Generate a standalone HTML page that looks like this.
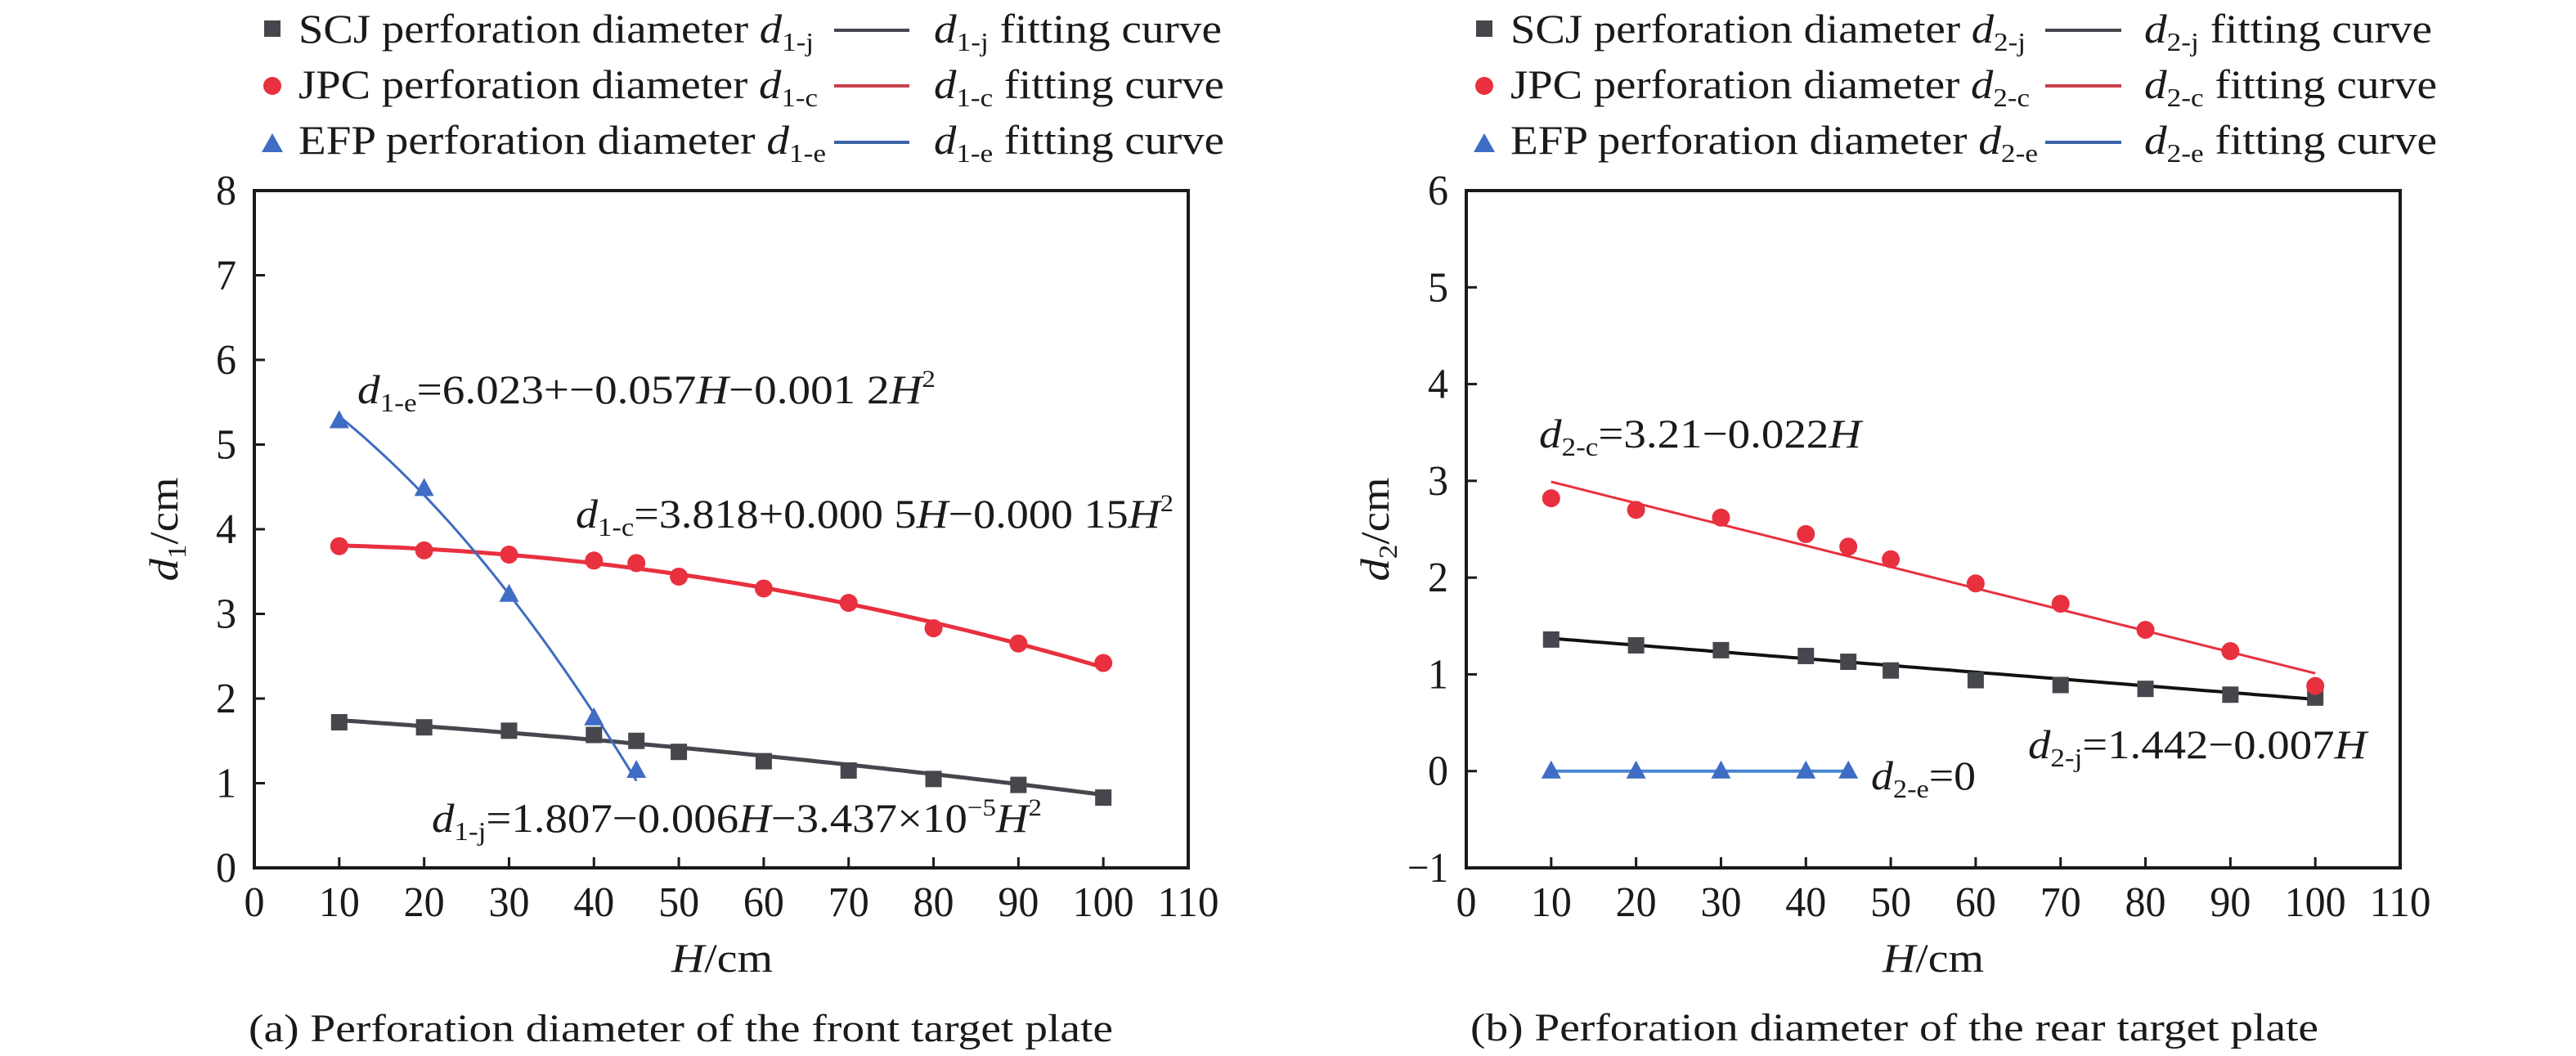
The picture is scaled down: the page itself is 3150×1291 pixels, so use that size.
<!DOCTYPE html>
<html><head><meta charset="utf-8">
<style>
html,body{margin:0;padding:0;background:#fff;}
svg{display:block;}
text{font-family:"Liberation Serif","Nimbus Roman","Times New Roman","DejaVu Serif Condensed","DejaVu Serif",serif;fill:#1a1a1a;}
</style></head>
<body>
<svg id="s" width="3150" height="1291" viewBox="0 0 3150 1291" xmlns="http://www.w3.org/2000/svg">
<g font-size="50">
<rect x="323" y="25" width="20" height="20" fill="#45474d"/>
<text x="365" y="52" textLength="630" lengthAdjust="spacingAndGlyphs">SCJ perforation diameter <tspan font-style="italic">d</tspan><tspan font-size="32" dy="10">1-j</tspan></text>
<line x1="1020" y1="37" x2="1112" y2="37" stroke="#45474d" stroke-width="4"/>
<text x="1142" y="52" textLength="352" lengthAdjust="spacingAndGlyphs"><tspan font-style="italic">d</tspan><tspan font-size="32" dy="10">1-j</tspan><tspan dy="-10"> fitting curve</tspan></text>

<circle cx="333" cy="105" r="11" fill="#e8303f"/>
<text x="365" y="120" textLength="635" lengthAdjust="spacingAndGlyphs">JPC perforation diameter <tspan font-style="italic">d</tspan><tspan font-size="32" dy="10">1-c</tspan></text>
<line x1="1020" y1="105" x2="1112" y2="105" stroke="#c8404a" stroke-width="4"/>
<text x="1142" y="120" textLength="355" lengthAdjust="spacingAndGlyphs"><tspan font-style="italic">d</tspan><tspan font-size="32" dy="10">1-c</tspan><tspan dy="-10"> fitting curve</tspan></text>

<polygon points="333,163 346,186 320,186" fill="#3f6cc4"/>
<text x="365" y="188" textLength="645" lengthAdjust="spacingAndGlyphs">EFP perforation diameter <tspan font-style="italic">d</tspan><tspan font-size="32" dy="10">1-e</tspan></text>
<line x1="1020" y1="174" x2="1112" y2="174" stroke="#3d63a8" stroke-width="4"/>
<text x="1142" y="188" textLength="355" lengthAdjust="spacingAndGlyphs"><tspan font-style="italic">d</tspan><tspan font-size="32" dy="10">1-e</tspan><tspan dy="-10"> fitting curve</tspan></text>
</g>
<g font-size="50">
<rect x="1805" y="25" width="20" height="20" fill="#45474d"/>
<text x="1847" y="52" textLength="630" lengthAdjust="spacingAndGlyphs">SCJ perforation diameter <tspan font-style="italic">d</tspan><tspan font-size="32" dy="10">2-j</tspan></text>
<line x1="2501" y1="37" x2="2594" y2="37" stroke="#45474d" stroke-width="4"/>
<text x="2622" y="52" textLength="352" lengthAdjust="spacingAndGlyphs"><tspan font-style="italic">d</tspan><tspan font-size="32" dy="10">2-j</tspan><tspan dy="-10"> fitting curve</tspan></text>

<circle cx="1815" cy="105" r="11" fill="#e8303f"/>
<text x="1847" y="120" textLength="635" lengthAdjust="spacingAndGlyphs">JPC perforation diameter <tspan font-style="italic">d</tspan><tspan font-size="32" dy="10">2-c</tspan></text>
<line x1="2501" y1="105" x2="2594" y2="105" stroke="#c8404a" stroke-width="4"/>
<text x="2622" y="120" textLength="358" lengthAdjust="spacingAndGlyphs"><tspan font-style="italic">d</tspan><tspan font-size="32" dy="10">2-c</tspan><tspan dy="-10"> fitting curve</tspan></text>

<polygon points="1815,163 1828,186 1802,186" fill="#3f6cc4"/>
<text x="1847" y="188" textLength="645" lengthAdjust="spacingAndGlyphs">EFP perforation diameter <tspan font-style="italic">d</tspan><tspan font-size="32" dy="10">2-e</tspan></text>
<line x1="2501" y1="174" x2="2594" y2="174" stroke="#3d63a8" stroke-width="4"/>
<text x="2622" y="188" textLength="358" lengthAdjust="spacingAndGlyphs"><tspan font-style="italic">d</tspan><tspan font-size="32" dy="10">2-e</tspan><tspan dy="-10"> fitting curve</tspan></text>
</g>

<g id="plots"></g>

<text font-size="50" transform="translate(217,647) rotate(-90)" text-anchor="middle" textLength="127" lengthAdjust="spacingAndGlyphs"><tspan font-style="italic">d</tspan><tspan font-size="32" dy="10">1</tspan><tspan dy="-10">/cm</tspan></text>
<text font-size="50" transform="translate(1698,647) rotate(-90)" text-anchor="middle" textLength="127" lengthAdjust="spacingAndGlyphs"><tspan font-style="italic">d</tspan><tspan font-size="32" dy="10">2</tspan><tspan dy="-10">/cm</tspan></text>
<text font-size="50" x="821" y="1188" textLength="124" lengthAdjust="spacingAndGlyphs"><tspan font-style="italic">H</tspan>/cm</text>
<text font-size="50" x="2302" y="1188" textLength="124" lengthAdjust="spacingAndGlyphs"><tspan font-style="italic">H</tspan>/cm</text>
<text font-size="48" x="304" y="1273" textLength="1057" lengthAdjust="spacingAndGlyphs">(a) Perforation diameter of the front target plate</text>
<text font-size="48" x="1798" y="1272" textLength="1037" lengthAdjust="spacingAndGlyphs">(b) Perforation diameter of the rear target plate</text>

<g font-size="50">
<text x="437" y="493" textLength="707" lengthAdjust="spacingAndGlyphs"><tspan font-style="italic">d</tspan><tspan font-size="32" dy="10">1-e</tspan><tspan dy="-10">=6.023+−0.057</tspan><tspan font-style="italic">H</tspan>−0.001 2<tspan font-style="italic">H</tspan><tspan font-size="30" dy="-20">2</tspan></text>
<text x="704" y="645" textLength="731" lengthAdjust="spacingAndGlyphs"><tspan font-style="italic">d</tspan><tspan font-size="32" dy="10">1-c</tspan><tspan dy="-10">=3.818+0.000 5</tspan><tspan font-style="italic">H</tspan>−0.000 15<tspan font-style="italic">H</tspan><tspan font-size="30" dy="-20">2</tspan></text>
<text x="528" y="1017" textLength="746" lengthAdjust="spacingAndGlyphs"><tspan font-style="italic">d</tspan><tspan font-size="32" dy="10">1-j</tspan><tspan dy="-10">=1.807−0.006</tspan><tspan font-style="italic">H</tspan>−3.437×10<tspan font-size="30" dy="-20">−5</tspan><tspan font-style="italic" dy="20">H</tspan><tspan font-size="30" dy="-20">2</tspan></text>
<text x="1882" y="547" textLength="394" lengthAdjust="spacingAndGlyphs"><tspan font-style="italic">d</tspan><tspan font-size="32" dy="10">2-c</tspan><tspan dy="-10">=3.21−0.022</tspan><tspan font-style="italic">H</tspan></text>
<text x="2480" y="927" textLength="414" lengthAdjust="spacingAndGlyphs"><tspan font-style="italic">d</tspan><tspan font-size="32" dy="10">2-j</tspan><tspan dy="-10">=1.442−0.007</tspan><tspan font-style="italic">H</tspan></text>
<text x="2288" y="965" textLength="128" lengthAdjust="spacingAndGlyphs"><tspan font-style="italic">d</tspan><tspan font-size="32" dy="10">2-e</tspan><tspan dy="-10">=0</tspan></text>
</g>
</svg>
<script>
(function(){
var NS="http://www.w3.org/2000/svg",g=document.getElementById('plots');
function el(t,a,p){var e=document.createElementNS(NS,t);for(var k in a)e.setAttribute(k,a[k]);(p||g).appendChild(e);return e;}
function txt(x,y,s,anchor){var n=s.length;var w=n*25;var xs=anchor==='end'?x-w:(anchor==='middle'?x-w/2:x);
 var e=el('text',{x:xs,y:y,'font-size':52,textLength:w,lengthAdjust:'spacingAndGlyphs'});e.textContent=s;}
function plot(x0,ymin,ymax,yt,yb){
 var x1=x0+1142,ppx=1142/110,ppy=(yb-yt)/(ymax-ymin);
 var X=function(h){return x0+h*ppx},Y=function(v){return yb-(v-ymin)*ppy};
 for(var h=10;h<=100;h+=10)el('line',{x1:X(h),y1:yb,x2:X(h),y2:yb-13,stroke:'#1a1a1a','stroke-width':3});
 for(var h=0;h<=110;h+=10)txt(X(h),1120,String(h),'middle');
 for(var v=ymin;v<=ymax;v++){ if(v>ymin&&v<ymax)el('line',{x1:x0,y1:Y(v),x2:x0+13,y2:Y(v),stroke:'#1a1a1a','stroke-width':3});
   txt(x0-22,Y(v)+17,(v<0?'−':'')+Math.abs(v),'end');}
 el('rect',{x:x0,y:yt,width:x1-x0,height:yb-yt,fill:'none',stroke:'#1a1a1a','stroke-width':4});
 return {X:X,Y:Y};
}
function curve(P,f,a,b,col,w){var pts=[];for(var h=a;h<=b+1e-9;h+=1)pts.push(P.X(h).toFixed(1)+','+P.Y(f(h)).toFixed(1));el('polyline',{points:pts.join(' '),fill:'none',stroke:col,'stroke-width':w});}
function sq(P,h,v){el('rect',{x:P.X(h)-10,y:P.Y(v)-10,width:20,height:20,fill:'#45474d'});}
function ci(P,h,v){el('circle',{cx:P.X(h),cy:P.Y(v),r:11,fill:'#e8303f'});}
function tr(P,h,v){var x=P.X(h),y=P.Y(v);el('polygon',{points:x+','+(y-13)+' '+(x+12)+','+(y+9)+' '+(x-12)+','+(y+9),fill:'#3f6cc4'});}
var H=[10,20,30,40,45,50,60,70,80,90,100];
var A=plot(311,0,8,233,1061);
curve(A,function(h){return 1.807-0.006*h-3.437e-5*h*h},10,100,'#45474d',5);
curve(A,function(h){return 3.818+0.0005*h-0.00015*h*h},10,100,'#e8303f',5);
curve(A,function(h){return 6.023-0.057*h-0.0012*h*h},10,45,'#3d6bbf',3);
var s1=[1.72,1.66,1.62,1.57,1.50,1.37,1.26,1.15,1.05,0.98,0.83];
var c1=[3.80,3.75,3.70,3.63,3.60,3.44,3.30,3.13,2.83,2.65,2.42];
var e1=[5.28,4.48,3.23,1.77,1.15];
H.forEach(function(h,i){sq(A,h,s1[i]);ci(A,h,c1[i]);});
[10,20,30,40,45].forEach(function(h,i){tr(A,h,e1[i]);});
var B=plot(1793,-1,6,233,1061);
curve(B,function(h){return 1.442-0.007*h},10,100,'#111',4);
curve(B,function(h){return 3.21-0.022*h},10,100,'#e8303f',3);
curve(B,function(h){return 0},10,45,'#4a86d0',4);
var s2=[1.36,1.30,1.25,1.19,1.13,1.04,0.94,0.89,0.85,0.79,0.76];
var c2=[2.82,2.70,2.62,2.45,2.32,2.19,1.94,1.73,1.46,1.24,0.88];
H.forEach(function(h,i){sq(B,h,s2[i]);ci(B,h,c2[i]);});
[10,20,30,40,45].forEach(function(h){tr(B,h,0);});
})();
</script>
</body></html>
